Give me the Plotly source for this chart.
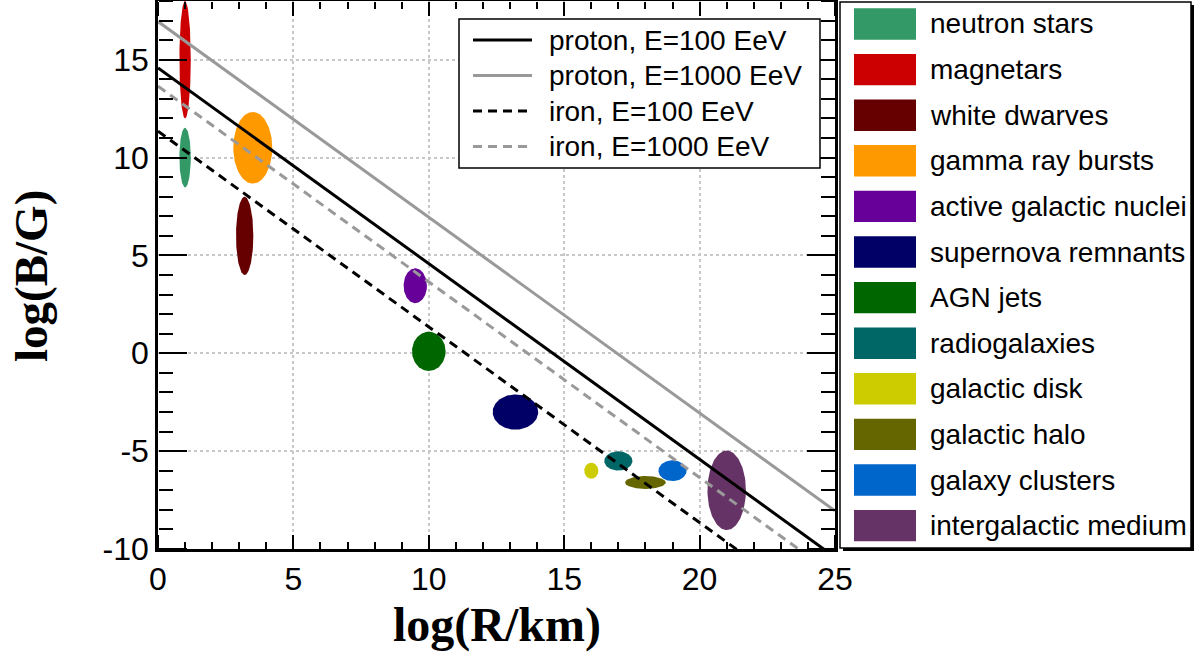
import numpy as np
import plotly.graph_objects as go

# Astrophysical source classes: centre and half-extent in log(R/km), log(B/G)
source_names = [
    "neutron stars", "magnetars", "white dwarves", "gamma ray bursts",
    "active galactic nuclei", "supernova remnants", "AGN jets", "radiogalaxies",
    "galactic disk", "galactic halo", "galaxy clusters", "intergalactic medium",
]
source_colors = [
    "#339966", "#cc0000", "#660000", "#ff9900",
    "#660099", "#000066", "#006600", "#006666",
    "#cccc00", "#666600", "#0066cc", "#663366",
]
log_r_center = [1.0, 1.0, 3.2, 3.5, 9.5, 13.2, 10.0, 17.0, 16.0, 18.0, 19.0, 21.0]
log_b_center = [10.0, 15.0, 6.0, 10.5, 3.45, -3.0, 0.1, -5.5, -6.0, -6.6, -6.0, -7.0]
log_r_half = [0.21, 0.21, 0.32, 0.72, 0.43, 0.84, 0.62, 0.52, 0.26, 0.75, 0.52, 0.71]
log_b_half = [1.52, 3.0, 2.0, 1.83, 0.89, 0.9, 1.0, 0.49, 0.41, 0.33, 0.53, 2.03]

# Hillas confinement limits, given by their end points
limit_names = ["proton, E=100 EeV", "proton, E=1000 EeV", "iron, E=100 EeV", "iron, E=1000 EeV"]
limit_colors = ["black", "#999999", "black", "#999999"]
limit_dash = ["solid", "solid", "9px,6px", "9px,6px"]
limit_log_r = [0.0, 25.0]
limit_log_b_start = [14.58, 16.95, 11.35, 13.65]
limit_log_b_end = [-10.42, -8.05, -13.65, -11.35]

x_range = [0, 25]
y_range = [-10, 18]

# plot-area geometry in pixels (used for the hand-drawn legend boxes)
W, H = 1197, 660
PL, PR, PT, PB = 158, 835, 1, 549


def px_x(p):
    return (p - PL) / (PR - PL)


def px_y(p):
    return (PB - p) / (PB - PT)


fig = go.Figure()

theta = np.linspace(0, 2 * np.pi, 121)
for name, col, cx, cy, rx, ry in zip(source_names, source_colors, log_r_center,
                                      log_b_center, log_r_half, log_b_half):
    fig.add_trace(go.Scatter(
        x=cx + rx * np.cos(theta), y=cy + ry * np.sin(theta),
        mode="lines", fill="toself", fillcolor=col,
        line=dict(width=0, color=col), name=name, showlegend=False,
        hoverinfo="name",
    ))

for name, col, dash, y0, y1 in zip(limit_names, limit_colors, limit_dash,
                                   limit_log_b_start, limit_log_b_end):
    fig.add_trace(go.Scatter(
        x=limit_log_r, y=[y0, y1], mode="lines",
        line=dict(color=col, width=3, dash=dash), name=name, showlegend=False,
    ))

# empty traces so the tick-only overlay axes are instantiated
for xa, ya in (("x2", "y2"), ("x3", "y3")):
    fig.add_trace(go.Scatter(x=[None], y=[None], xaxis=xa, yaxis=ya,
                             showlegend=False, hoverinfo="skip"))

tick_font = dict(family="Liberation Sans, Arial, sans-serif", size=32, color="black")
minus_alias = {"\u22125": "-5", "\u221210": "-10"}
grid = dict(showgrid=True, gridcolor="#c8c8c8", griddash="dot", gridwidth=1.5)


def tick_axis(major_len, minor_len, **kw):
    # an axis that only draws ticks pointing into the frame
    return dict(anchor="free", showticklabels=False, showgrid=False, zeroline=False,
                showline=False, ticks="outside", ticklen=major_len, tickwidth=2,
                tickcolor="black", tick0=0, dtick=5, automargin=False,
                minor=dict(tick0=0, dtick=1, ticks="outside", ticklen=minor_len,
                           tickwidth=2, tickcolor="black", showgrid=False),
                **kw)


fig.update_layout(
    xaxis=dict(
        range=x_range, tick0=0, dtick=5, ticks="",
        showline=True, linewidth=2.5, linecolor="black", mirror=True,
        zeroline=False, tickfont=tick_font, automargin=False, **grid,
    ),
    yaxis=dict(
        range=y_range, tick0=0, dtick=5, ticks="",
        showline=True, linewidth=2.5, linecolor="black", mirror=True,
        zeroline=False, tickfont=tick_font, labelalias=minus_alias,
        automargin=False, **grid,
    ),
    # bottom frame ticks (pointing up) and top frame ticks (pointing down)
    xaxis2=tick_axis(14, 7, range=x_range, overlaying="x", side="top", position=0),
    xaxis3=tick_axis(14, 7, range=x_range, overlaying="x", side="bottom", position=1),
    # left frame ticks (pointing right) and right frame ticks (pointing left)
    yaxis2=tick_axis(28, 14, range=y_range, overlaying="y", side="right", position=0),
    yaxis3=tick_axis(28, 14, range=y_range, overlaying="y", side="left", position=1),
)

shapes = []
annotations = []
text_font = dict(family="Liberation Sans, Arial, sans-serif", size=28, color="black")

# legend for the confinement limits
lb = (459, 820, 19, 168)
shapes.append(dict(type="rect", xref="paper", yref="paper",
                   x0=px_x(lb[0]), x1=px_x(lb[1]), y0=px_y(lb[3]), y1=px_y(lb[2]),
                   fillcolor="white", line=dict(color="black", width=1.5), layer="above"))
for i, (name, col, dash) in enumerate(zip(limit_names, limit_colors, limit_dash)):
    yc = 40 + 35.5 * i
    shapes.append(dict(type="line", xref="paper", yref="paper",
                       x0=px_x(473), x1=px_x(532), y0=px_y(yc), y1=px_y(yc),
                       line=dict(color=col, width=3, dash=dash), layer="above"))
    annotations.append(dict(text=name, xref="paper", yref="paper", x=px_x(547), y=px_y(yc),
                            xanchor="left", yanchor="middle", showarrow=False, font=text_font))

# legend for the source classes
sb = (840, 1191, 2, 548)
shapes.append(dict(type="rect", xref="paper", yref="paper",
                   x0=px_x(sb[0] + 3), x1=px_x(sb[1] + 3), y0=px_y(sb[3] + 3), y1=px_y(sb[2] + 3),
                   fillcolor="black", line=dict(width=0), layer="above"))
shapes.append(dict(type="rect", xref="paper", yref="paper",
                   x0=px_x(sb[0]), x1=px_x(sb[1]), y0=px_y(sb[3]), y1=px_y(sb[2]),
                   fillcolor="white", line=dict(color="black", width=1.5), layer="above"))
for i, (name, col) in enumerate(zip(source_names, source_colors)):
    yc = 24 + 45.6 * i
    shapes.append(dict(type="rect", xref="paper", yref="paper",
                       x0=px_x(854), x1=px_x(916), y0=px_y(yc + 15.7), y1=px_y(yc - 15.7),
                       fillcolor=col, line=dict(width=0), layer="above"))
    annotations.append(dict(text=name, xref="paper", yref="paper", x=px_x(928), y=px_y(yc),
                            xanchor="left", yanchor="middle", showarrow=False, font=text_font))

title_font = dict(family="Liberation Serif, Times New Roman, serif", size=48, color="black")
annotations.append(dict(text="<b>log(R/km)</b>", xref="paper", yref="paper",
                        x=0.5, y=px_y(625), xanchor="center", yanchor="middle",
                        showarrow=False, font=title_font))
annotations.append(dict(text="<b>log(B/G)</b>", xref="paper", yref="paper",
                        x=px_x(31), y=px_y(276), xanchor="center", yanchor="middle",
                        textangle=-90, showarrow=False,
                        font=dict(title_font, size=47)))

fig.update_layout(
    width=W, height=H, autosize=False,
    margin=dict(l=PL, r=W - PR, t=PT, b=H - PB, pad=0),
    paper_bgcolor="white", plot_bgcolor="white",
    shapes=shapes, annotations=annotations, showlegend=False,
)

fig.write_html("out.html", include_plotlyjs=True, full_html=True,
               config=dict(displayModeBar=False))
